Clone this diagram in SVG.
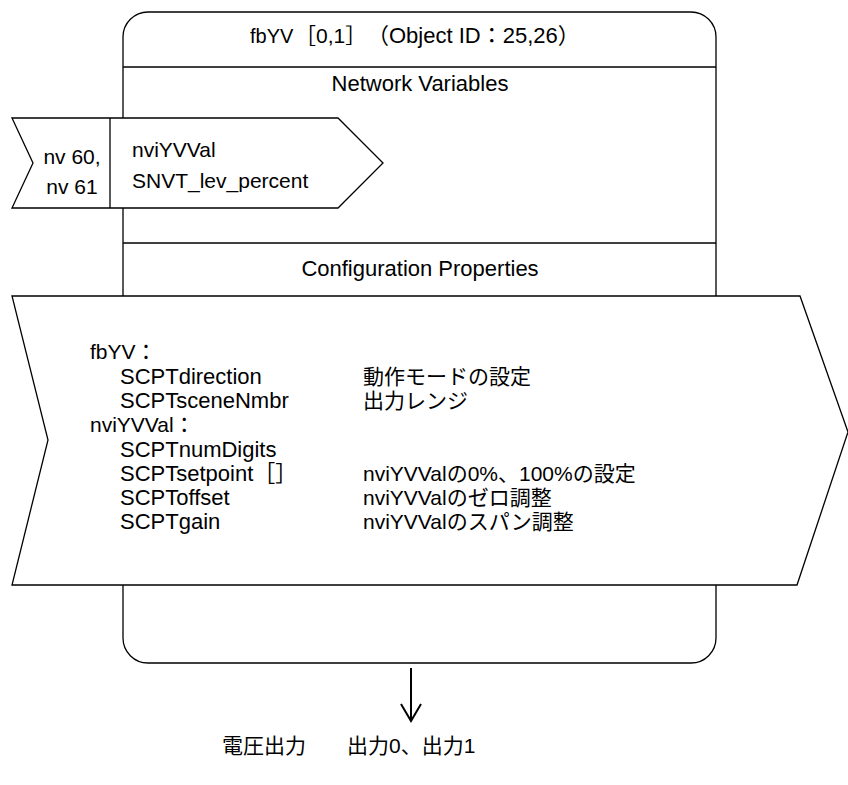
<svg xmlns="http://www.w3.org/2000/svg" width="848" height="785" viewBox="0 0 848 785">
<style>
.ln{fill:none;stroke:#000;stroke-width:1.3}
.sh{fill:#fff;stroke:#000;stroke-width:1.3}
text{font-family:"Liberation Sans","Noto Sans CJK JP",sans-serif;font-size:21px;fill:#000}
.m{text-anchor:middle}
.l{font-size:22px}
</style>
<defs>
<marker id="ah" markerWidth="20" markerHeight="24" refX="18" refY="11" orient="auto" markerUnits="userSpaceOnUse" viewBox="0 0 20 24">
<path d="M1,1 L18,11 L1,21" fill="none" stroke="#000" stroke-width="2"/>
</marker>
</defs>
<g id="fbYV">
<rect x="123" y="12" width="593" height="651" rx="25" ry="25" class="sh"/>
<line x1="123" y1="67" x2="716" y2="67" class="ln"/>
<text x="250" y="43"><tspan x="250" font-size="20">fbYV</tspan><tspan x="295">［0,1］</tspan><tspan x="367" font-size="22">（Object ID：25,26）</tspan></text>
<text x="420" y="91" class="m l">Network Variables</text>
<line x1="123" y1="243" x2="716" y2="243" class="ln"/>
<text x="420" y="276" class="m l">Configuration Properties</text>
</g>
<g id="nv">
<path d="M12,118 L338,118 L383,163 L338,208 L12,208 L33,163 Z" class="sh"/>
<line x1="110" y1="118" x2="110" y2="208" class="ln"/>
<text x="72" y="164" class="m">nv 60,</text>
<text x="72" y="194" class="m">nv 61</text>
<text x="132" y="157">nviYVVal</text>
<text x="132" y="188">SNVT_lev_percent</text>
</g>
<g id="cp">
<path d="M12,296 L800,296 L848,432 L797,585 L12,585 L48,440 Z" class="sh"/>
<text x="90" y="359">fbYV：</text>
<text x="120" y="384" class="l">SCPTdirection</text>
<text x="120" y="408" class="l">SCPTsceneNmbr</text>
<text x="90" y="432">nviYVVal：</text>
<text x="120" y="457" class="l">SCPTnumDigits</text>
<text x="120" y="481" class="l">SCPTsetpoint［］</text>
<text x="120" y="505" class="l">SCPToffset</text>
<text x="120" y="529" class="l">SCPTgain</text>
<text x="363" y="384">動作モードの設定</text>
<text x="363" y="408">出力レンジ</text>
<text x="363" y="481">nviYVValの0%、100%の設定</text>
<text x="363" y="505">nviYVValのゼロ調整</text>
<text x="363" y="529">nviYVValのスパン調整</text>
</g>
<g id="connectors">
<line x1="411" y1="668" x2="411" y2="721" stroke="#000" stroke-width="2" marker-end="url(#ah)"/>
</g>
<g id="out">
<text x="222" y="753">電圧出力</text>
<text x="347" y="753">出力0、出力1</text>
</g>
</svg>
